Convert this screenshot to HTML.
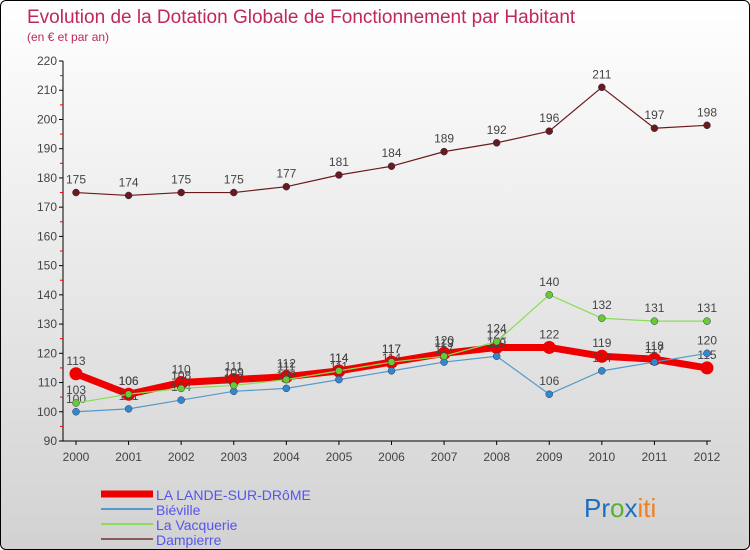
<!DOCTYPE html>
<html><head><meta charset="utf-8"><style>
body{margin:0;}
#wrap{position:relative;width:750px;height:550px;overflow:hidden;background:linear-gradient(#ffffff,#d2d2d2);border:1px solid #000;box-sizing:border-box;border-radius:6px;font-family:"Liberation Sans",sans-serif;}
</style></head><body>
<div id="wrap">
<svg id="chart" width="750" height="550" style="position:absolute;left:0;top:0">
<text x="26" y="22" font-size="19" fill="#c0285a">Evolution de la Dotation Globale de Fonctionnement par Habitant</text>
<text x="26" y="40" font-size="12" fill="#c0285a">(en € et par an)</text>
<g id="axes"></g><g id="series"></g><g id="legend"></g>
<text x="583" y="516" font-size="26"><tspan fill="#1a6fc0">Pr</tspan><tspan fill="#5ab030">o</tspan><tspan fill="#1a6fc0">x</tspan><tspan fill="#f08020">iti</tspan></text>
</svg>
</div>
<script>
const years=["2000","2001","2002","2003","2004","2005","2006","2007","2008","2009","2010","2011","2012"];
const yTicks=[90,100,110,120,130,140,150,160,170,180,190,200,210,220];
const lalande=[113,106,110,111,112,114,117,120,122,122,119,118,115];
const bieville=[100,101,104,107,108,111,114,117,119,106,114,117,120];
const vacquerie=[103,106,108,109,111,114,117,119,124,140,132,131,131];
const dampierre=[175,174,175,175,177,181,184,189,192,196,211,197,198];
const NS="http://www.w3.org/2000/svg";
function X(i){return 75+i*(706-75)/12;}
function Y(v){return 60+(220-v)*380/130;}
function mk(t,a,p){const e=document.createElementNS(NS,t);for(const k in a)e.setAttribute(k,a[k]);p.appendChild(e);return e;}
const ax=document.getElementById('axes');
let l=mk('line',{x1:62,y1:Y(220),x2:62,y2:Y(90),stroke:'#000'},ax);


l=mk('line',{x1:62,y1:Y(90),x2:710,y2:Y(90),stroke:'#000'},ax);


yTicks.forEach(v=>{
 mk('line',{x1:58,y1:Y(v),x2:62,y2:Y(v),stroke:'#000'},ax);
 if(v<220)mk('line',{x1:59,y1:Y(v+5),x2:62,y2:Y(v+5),stroke:'#e00'},ax);
 const t=mk('text',{x:56,y:Y(v)+4,'font-size':12,'text-anchor':'end',fill:'#444'},ax);t.textContent=v;
 
 
});
years.forEach((y,i)=>{
 mk('line',{x1:X(i),y1:Y(90),x2:X(i),y2:Y(90)+4,stroke:'#000'},ax);
 const t=mk('text',{x:X(i),y:Y(90)+20,'font-size':12,'text-anchor':'middle',fill:'#444'},ax);t.textContent=y;
 
 
});
const sg=document.getElementById('series');
const defs=[
 {d:dampierre,c:'#6a1a1a',w:1.2,r:3.5,f:'#6a1a1a',n:'dampierre'},
 {d:vacquerie,c:'#88dd55',w:1.2,r:3.5,f:'#66cc33',n:'la-vacquerie'},
 {d:bieville,c:'#5599cc',w:1.2,r:3.5,f:'#3388cc',n:'bieville'},
 {d:lalande,c:'#ee0000',w:7,r:6.5,f:'#ee0000',n:'la-lande'}];
const order=[3,2,1,0];
order.forEach(k=>{const s=defs[k];
 const g=mk('g',{},sg);
 
 
 const p=mk('polyline',{points:s.d.map((v,i)=>X(i)+','+Y(v)).join(' '),fill:'none',stroke:s.c,'stroke-width':s.w,'stroke-linejoin':'round'},g);
 
 
 s.d.forEach((v,i)=>{
  const c=mk('circle',{cx:X(i),cy:Y(v),r:s.r,fill:s.f,stroke:k==3?'none':'#335',"stroke-width":0.5},g);
  
  
  const t=mk('text',{x:X(i),y:Y(v)-9,'font-size':12,'text-anchor':'middle',fill:'#444'},g);t.textContent=v;
  
  
 });
});
const lg=document.getElementById('legend');
const leg=[['LA LANDE-SUR-DRôME','#ee0000',7],['Biéville','#5599cc',2],['La Vacquerie','#88dd55',2],['Dampierre','#8a5a5a',2]];
leg.forEach((e,i)=>{const y=493+i*15;
 const g=mk('g',{},lg);
 
 
 mk('line',{x1:100,y1:y,x2:152,y2:y,stroke:e[1],'stroke-width':e[2]},g);
 const t=mk('text',{x:155,y:y+6,'font-size':14,fill:'#5555ee'},g);t.textContent=e[0];
});
</script>
</body></html>
